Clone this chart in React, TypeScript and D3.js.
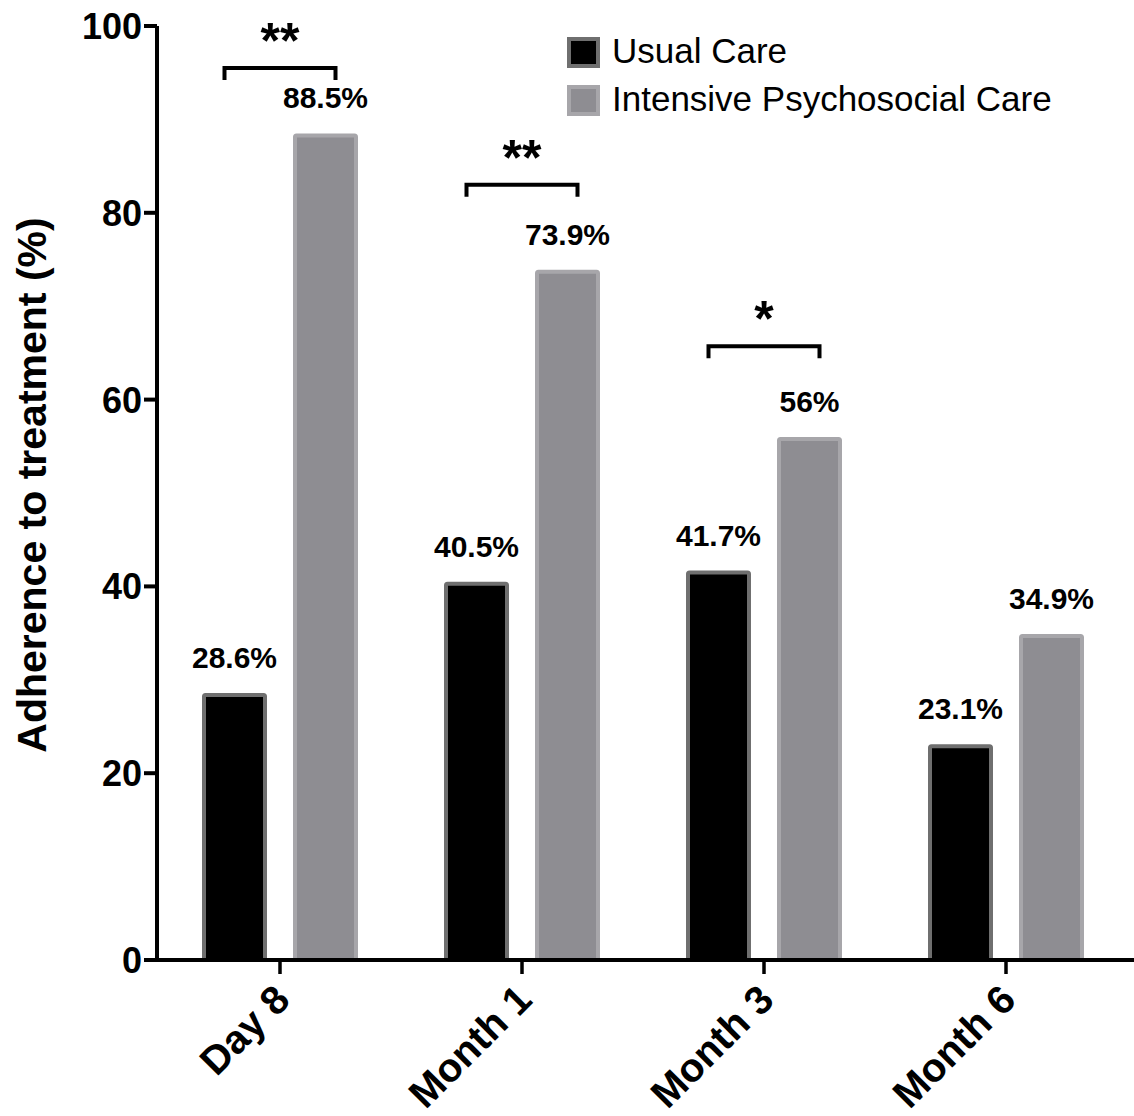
import * as d3 from "d3";

const categories = ["Day 8", "Month 1", "Month 3", "Month 6"];
const seriesNames = ["Usual Care", "Intensive Psychosocial Care"];
const usualCare = [28.6, 40.5, 41.7, 23.1];
const intensiveCare = [88.5, 73.9, 56, 34.9];
const yTicks = [0, 20, 40, 60, 80, 100];

// significance brackets
const sigCategories = ["Day 8", "Month 1", "Month 3"];
const sigStars = ["**", "**", "*"];
const sigLevels = [95.5, 83, 65.7];

const width = 1134;
const height = 1116;
const font = "'Liberation Sans', Arial, Helvetica, sans-serif";

const fills = ["#000000", "#8e8d92"];
const strokes = ["#6f6f6f", "#a7a6aa"];

export default function App() {
  const x = d3.scaleBand<string>().domain(categories).range([159, 1127]);
  const inner = d3
    .scaleBand<string>()
    .domain(seriesNames)
    .range([43, 199])
    .paddingInner(26 / 91);
  const y = d3.scaleLinear().domain([0, 100]).range([960, 26]);

  const bars = categories.flatMap((c, i) => [
    { c, s: seriesNames[0], v: usualCare[i], k: 0 },
    { c, s: seriesNames[1], v: intensiveCare[i], k: 1 },
  ]);

  const barX = (c: string, s: string) => (x(c) ?? 0) + (inner(s) ?? 0);
  const bw = inner.bandwidth();

  return (
    <svg
      width={width}
      height={height}
      style={{ position: "absolute", left: 0, top: 0, background: "#fff" }}
      fontFamily={font}
    >
      {/* bars */}
      {bars.map((b, i) => (
        <g key={i}>
          <rect
            x={barX(b.c, b.s) + 2}
            y={y(b.v) + 2}
            width={bw - 4}
            height={y(0) - y(b.v) - 2}
            fill={fills[b.k]}
            stroke={strokes[b.k]}
            strokeWidth={4}
            rx={1.5}
          />
          <text
            x={barX(b.c, b.s) + bw / 2}
            y={y(b.v) - 25}
            textAnchor="middle"
            fontSize={30}
            fontWeight="bold"
          >
            {`${b.v}%`}
          </text>
        </g>
      ))}

      {/* y axis */}
      <line x1={157} x2={157} y1={y(100)} y2={y(0) + 2} stroke="#000" strokeWidth={4} />
      {yTicks.map((t) => (
        <g key={t}>
          <line x1={144} x2={157} y1={y(t)} y2={y(t)} stroke="#000" strokeWidth={4} />
          <text
            x={142}
            y={y(t)}
            dy="0.36em"
            textAnchor="end"
            fontSize={36}
            fontWeight="bold"
          >
            {t}
          </text>
        </g>
      ))}
      <text
        transform={`translate(46, 485) rotate(-90)`}
        textAnchor="middle"
        fontSize={41}
        fontWeight="bold"
      >
        Adherence to treatment (%)
      </text>

      {/* x axis */}
      <line x1={155} x2={width} y1={y(0)} y2={y(0)} stroke="#000" strokeWidth={4} />
      {categories.map((c) => {
        const cx = (x(c) ?? 0) + x.bandwidth() / 2;
        return (
          <g key={c}>
            <line x1={cx} x2={cx} y1={y(0)} y2={y(0) + 14} stroke="#000" strokeWidth={3.5} />
            <text
              transform={`translate(${cx + 2}, ${y(0) + 32}) rotate(-45)`}
              textAnchor="end"
              dy="0.35em"
              fontSize={40}
              fontWeight="bold"
            >
              {c}
            </text>
          </g>
        );
      })}

      {/* significance */}
      {sigCategories.map((c, i) => {
        const x0 = barX(c, seriesNames[0]) + bw / 2 - 10;
        const x1 = barX(c, seriesNames[1]) + bw / 2 + 10;
        const yy = y(sigLevels[i]);
        return (
          <g key={c}>
            <path
              d={`M${x0},${yy + 12}V${yy}H${x1}V${yy + 12}`}
              fill="none"
              stroke="#000"
              strokeWidth={4}
            />
            <text
              x={(x0 + x1) / 2}
              y={yy - 10}
              textAnchor="middle"
              fontSize={50}
              fontWeight="bold"
            >
              {sigStars[i]}
            </text>
          </g>
        );
      })}

      {/* legend */}
      {seriesNames.map((s, i) => (
        <g key={s} transform={`translate(567, ${37 + i * 48})`}>
          <rect
            x={2}
            y={2}
            width={29}
            height={27}
            fill={fills[i]}
            stroke={strokes[i]}
            strokeWidth={4}
          />
          <text x={45} y={26} fontSize={35}>
            {s}
          </text>
        </g>
      ))}
    </svg>
  );
}
